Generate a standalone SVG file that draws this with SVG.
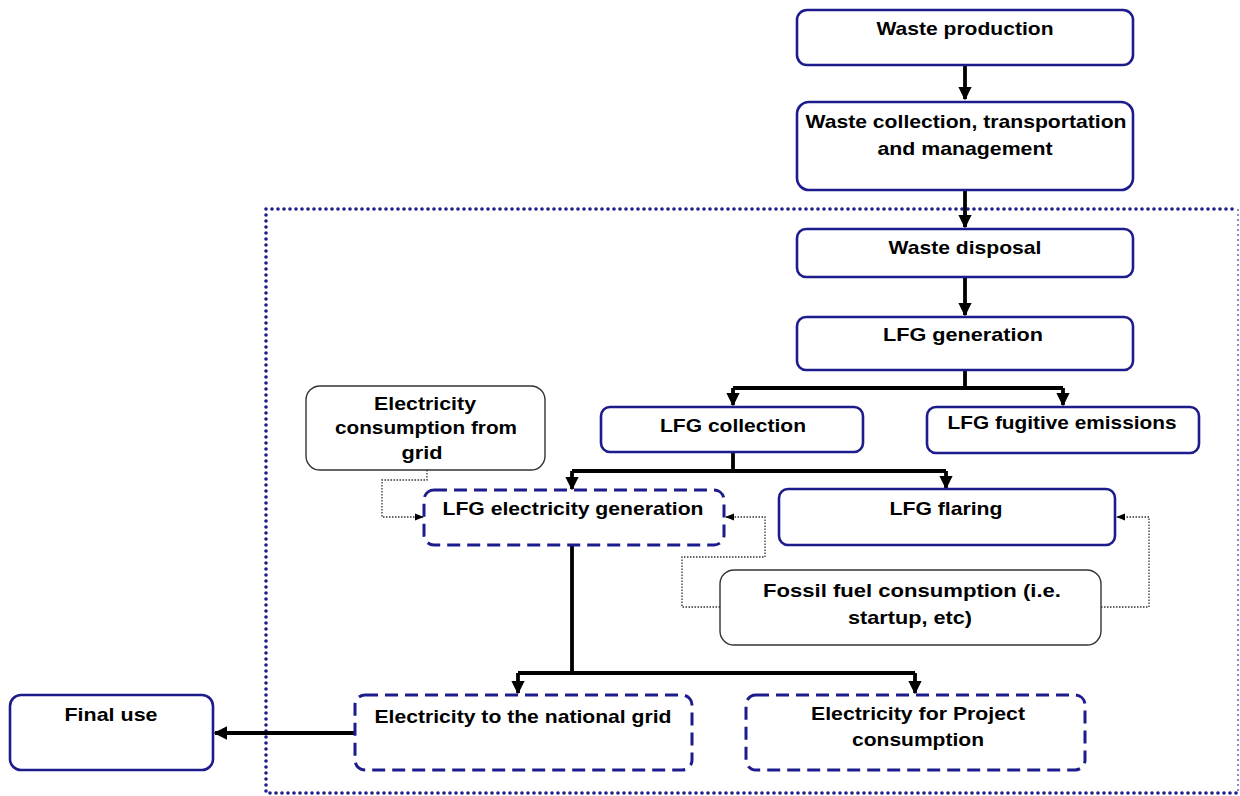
<svg xmlns="http://www.w3.org/2000/svg" width="1240" height="796" viewBox="0 0 1240 796">
<style>
.n{fill:#fff;stroke:#1c1c8c;stroke-width:2.6}
.d{fill:#fff;stroke:#1c1c8c;stroke-width:3;stroke-dasharray:13 7}
.g{fill:#fff;stroke:#333;stroke-width:1.4}
.t{font-family:"Liberation Sans",Arial,sans-serif;font-weight:bold;font-size:19px;fill:#000;text-anchor:middle}
.c{fill:none;stroke:#000;stroke-width:3.8}
.p{fill:none;stroke:#333;stroke-width:1.3;stroke-dasharray:1.5 1.5}
</style>
<defs>
<marker id="a" viewBox="0 0 10 10" refX="9" refY="5" markerWidth="3.5" markerHeight="3.5" orient="auto" markerUnits="strokeWidth"><path d="M0,0L10,5L0,10z" fill="#000"/></marker>
<marker id="s" viewBox="0 0 10 10" refX="9" refY="5" markerWidth="7" markerHeight="7" orient="auto" markerUnits="strokeWidth"><path d="M0,1L10,5L0,9z" fill="#000"/></marker>
</defs>
<path d="M266,209H1238M266,209V793H1238" fill="none" stroke="#1c1c8c" stroke-width="3.6" stroke-dasharray="0 6" stroke-linecap="round"/>
<path d="M1238,209V793" fill="none" stroke="#6a6aa8" stroke-width="1.5" stroke-dasharray="2 3"/>
<g id="connectors">
<path class="c" d="M965,65V99" marker-end="url(#a)"/>
<path class="c" d="M965,190V227" marker-end="url(#a)"/>
<path class="c" d="M965,277V315" marker-end="url(#a)"/>
<path class="c" d="M965,370V388M733,388H1063"/>
<path class="c" d="M733,388V405" marker-end="url(#a)"/>
<path class="c" d="M1063,388V405" marker-end="url(#a)"/>
<path class="c" d="M733,452V471M572,471H946"/>
<path class="c" d="M572,471V489" marker-end="url(#a)"/>
<path class="c" d="M946,471V488" marker-end="url(#a)"/>
<path class="c" d="M572,545V673M518,673H915"/>
<path class="c" d="M518,673V693" marker-end="url(#a)"/>
<path class="c" d="M915,673V693" marker-end="url(#a)"/>
<path class="c" d="M355,733H215" marker-end="url(#a)"/>
<path class="p" d="M427,470V480H382V517H423" marker-end="url(#s)"/>
<path class="p" d="M720,607H682V557H765V517H726" marker-end="url(#s)"/>
<path class="p" d="M1101,607H1149V517H1117" marker-end="url(#s)"/>
</g>
<g id="waste-production"><rect class="n" x="797" y="10" width="336" height="55" rx="10"/><text class="t" x="965" y="35" textLength="177" lengthAdjust="spacingAndGlyphs">Waste production</text></g>
<g id="waste-collection"><rect class="n" x="797" y="102" width="336" height="88" rx="12"/><text class="t" x="966" y="128" textLength="321" lengthAdjust="spacingAndGlyphs">Waste collection, transportation</text><text class="t" x="965" y="155" textLength="175" lengthAdjust="spacingAndGlyphs">and management</text></g>
<g id="waste-disposal"><rect class="n" x="797" y="229" width="336" height="48" rx="9"/><text class="t" x="965" y="254" textLength="153" lengthAdjust="spacingAndGlyphs">Waste disposal</text></g>
<g id="lfg-generation"><rect class="n" x="797" y="317" width="336" height="53" rx="9"/><text class="t" x="963" y="341" textLength="160" lengthAdjust="spacingAndGlyphs">LFG generation</text></g>
<g id="lfg-collection"><rect class="n" x="601" y="407" width="262" height="45" rx="9"/><text class="t" x="733" y="432" textLength="146" lengthAdjust="spacingAndGlyphs">LFG collection</text></g>
<g id="lfg-fugitive"><rect class="n" x="927" y="407" width="272" height="46" rx="9"/><text class="t" x="1062" y="429" textLength="229" lengthAdjust="spacingAndGlyphs">LFG fugitive emissions</text></g>
<g id="elec-from-grid"><rect class="g" x="306" y="386" width="239" height="84" rx="14"/><text class="t" x="425" y="410" textLength="102" lengthAdjust="spacingAndGlyphs">Electricity</text><text class="t" x="426" y="434" textLength="182" lengthAdjust="spacingAndGlyphs">consumption from</text><text class="t" x="422" y="459" textLength="41" lengthAdjust="spacingAndGlyphs">grid</text></g>
<g id="lfg-elec-gen"><rect class="d" x="424" y="490" width="300" height="55" rx="10"/><text class="t" x="573" y="515" textLength="261" lengthAdjust="spacingAndGlyphs">LFG electricity generation</text></g>
<g id="lfg-flaring"><rect class="n" x="779" y="489" width="336" height="56" rx="9"/><text class="t" x="946" y="515" textLength="113" lengthAdjust="spacingAndGlyphs">LFG flaring</text></g>
<g id="fossil-fuel"><rect class="g" x="720" y="570" width="381" height="75" rx="14"/><text class="t" x="912" y="597" textLength="298" lengthAdjust="spacingAndGlyphs">Fossil fuel consumption (i.e.</text><text class="t" x="910" y="624" textLength="124" lengthAdjust="spacingAndGlyphs">startup, etc)</text></g>
<g id="elec-national-grid"><rect class="d" x="355" y="695" width="337" height="75" rx="10"/><text class="t" x="523" y="723" textLength="297" lengthAdjust="spacingAndGlyphs">Electricity to the national grid</text></g>
<g id="elec-project"><rect class="d" x="746" y="695" width="339" height="75" rx="10"/><text class="t" x="918" y="720" textLength="214" lengthAdjust="spacingAndGlyphs">Electricity for Project</text><text class="t" x="918" y="746" textLength="132" lengthAdjust="spacingAndGlyphs">consumption</text></g>
<g id="final-use"><rect class="n" x="10" y="695" width="203" height="75" rx="11"/><text class="t" x="111" y="721" textLength="93" lengthAdjust="spacingAndGlyphs">Final use</text></g>
</svg>
